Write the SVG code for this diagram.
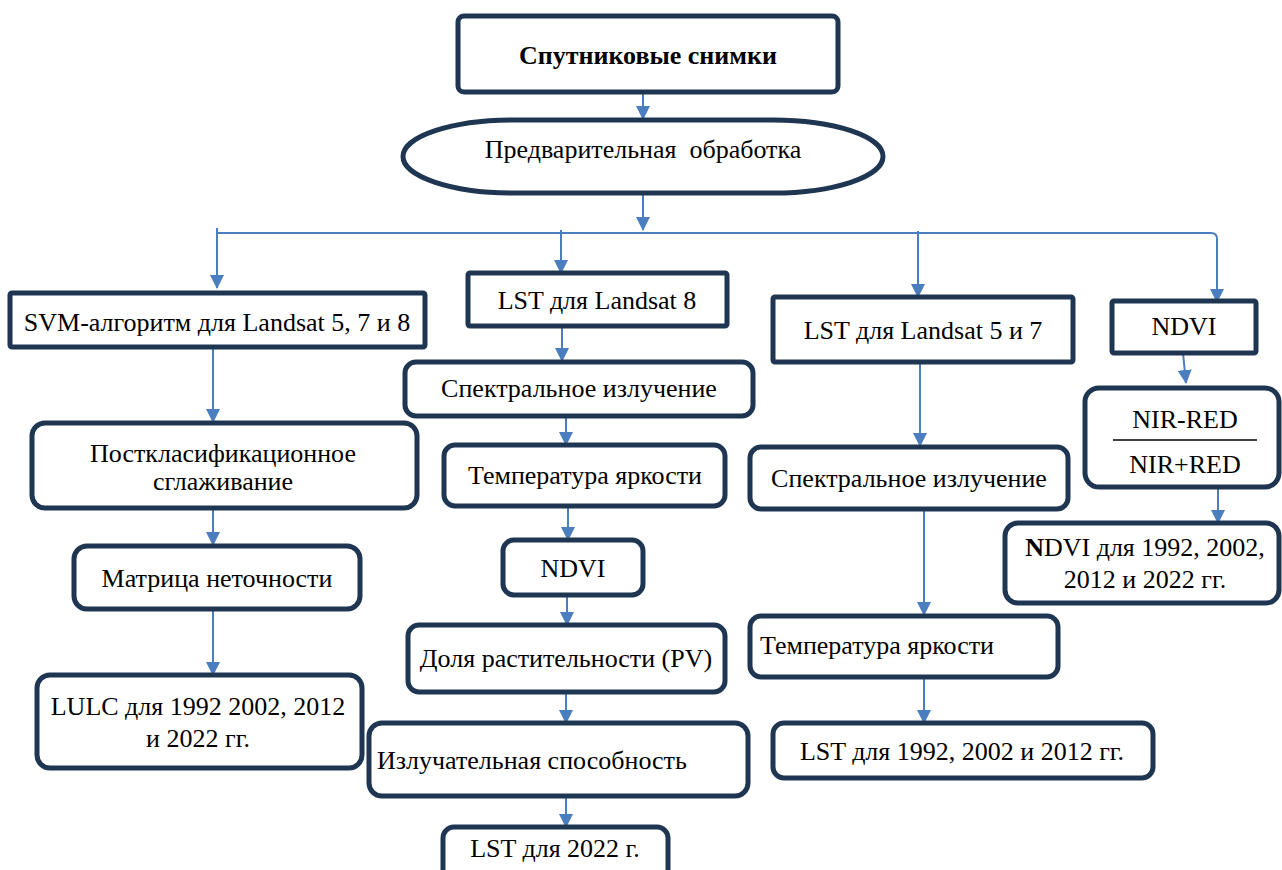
<svg xmlns="http://www.w3.org/2000/svg" width="1282" height="870" viewBox="0 0 1282 870">
<defs>
<marker id="ah" viewBox="0 0 14 14" refX="13" refY="7" markerWidth="14" markerHeight="14" orient="auto" markerUnits="userSpaceOnUse">
<path d="M0,0 L14,7 L0,14 z" fill="#4A7EBF"/>
</marker>
</defs>
<style>
.b{fill:#fff;stroke:#1F3652;stroke-width:5}
.t{font-family:"Liberation Serif","Times New Roman",serif;font-size:26px;fill:#000;text-anchor:middle}
.l{text-anchor:start}
.c{fill:none;stroke:#4A7EBF;stroke-width:2}
</style>
<rect width="1282" height="870" fill="#fff"/>

<g id="connectors">
<path class="c" d="M216,233 H1211 Q1217,233 1217,239 V302" marker-end="url(#ah)"/>
<path class="c" d="M217,228 V288" marker-end="url(#ah)"/>
<path class="c" d="M643,88 V119" marker-end="url(#ah)"/>
<path class="c" d="M643,195 V230" marker-end="url(#ah)"/>
<path class="c" d="M561,230 V273" marker-end="url(#ah)"/>
<path class="c" d="M918,231 V297" marker-end="url(#ah)"/>
<path class="c" d="M213,347 V422" marker-end="url(#ah)"/>
<path class="c" d="M213,508 V545" marker-end="url(#ah)"/>
<path class="c" d="M213,609 V675" marker-end="url(#ah)"/>
<path class="c" d="M562,326 V361" marker-end="url(#ah)"/>
<path class="c" d="M566,416 V445" marker-end="url(#ah)"/>
<path class="c" d="M568,506 V540" marker-end="url(#ah)"/>
<path class="c" d="M567,595 V625" marker-end="url(#ah)"/>
<path class="c" d="M566,692 V723" marker-end="url(#ah)"/>
<path class="c" d="M566,796 V827" marker-end="url(#ah)"/>
<path class="c" d="M920,362 V446" marker-end="url(#ah)"/>
<path class="c" d="M924,509 V615" marker-end="url(#ah)"/>
<path class="c" d="M924,677 V723" marker-end="url(#ah)"/>
<path class="c" d="M1183,353 L1186,383" marker-end="url(#ah)"/>
<path class="c" d="M1218,487 V523" marker-end="url(#ah)"/>
</g>

<g id="n-sputnik">
<rect class="b" x="458" y="16" width="380" height="76" rx="6"/>
<text class="t" x="648" y="64" font-weight="bold">Спутниковые снимки</text>
</g>
<g id="n-predobr">
<rect class="b" x="403" y="120" width="480" height="73" rx="110" ry="36.5"/>
<text class="t" x="643" y="158" xml:space="preserve">Предварительная  обработка</text>
</g>

<g id="n-svm">
<rect class="b" x="10" y="293" width="415" height="54" rx="2"/>
<text class="t" x="217" y="331">SVM-алгоритм для Landsat 5, 7 и 8</text>
</g>
<g id="n-postklass">
<rect class="b" x="32" y="423" width="385" height="85" rx="13"/>
<text class="t" x="223" y="462">Посткласификационное</text>
<text class="t" x="223" y="490">сглаживание</text>
</g>
<g id="n-matrix">
<rect class="b" x="74" y="546" width="286" height="63" rx="13"/>
<text class="t" x="217" y="587">Матрица неточности</text>
</g>
<g id="n-lulc">
<rect class="b" x="37" y="675" width="325" height="93" rx="13"/>
<text class="t" x="198" y="715">LULC для 1992 2002, 2012</text>
<text class="t" x="198" y="747">и 2022 гг.</text>
</g>

<g id="n-lst8">
<rect class="b" x="468" y="273" width="259" height="53" rx="2"/>
<text class="t" x="597" y="309">LST для Landsat 8</text>
</g>
<g id="n-spektr1">
<rect class="b" x="405" y="362" width="348" height="54" rx="11"/>
<text class="t" x="579" y="397">Спектральное излучение</text>
</g>
<g id="n-temp1">
<rect class="b" x="444" y="445" width="281" height="61" rx="11"/>
<text class="t" x="585" y="484">Температура яркости</text>
</g>
<g id="n-ndvi1">
<rect class="b" x="503" y="540" width="140" height="55" rx="11"/>
<text class="t" x="573" y="577">NDVI</text>
</g>
<g id="n-pv">
<rect class="b" x="408" y="625" width="317" height="67" rx="11"/>
<text class="t" x="566" y="667">Доля растительности (PV)</text>
</g>
<g id="n-emis">
<rect class="b" x="369" y="723" width="379" height="73" rx="13"/>
<text class="t l" x="377" y="769">Излучательная способность</text>
</g>
<g id="n-lst2022">
<rect class="b" x="443" y="827" width="225" height="60" rx="11"/>
<text class="t" x="555" y="857">LST для 2022 г.</text>
</g>

<g id="n-lst57">
<rect class="b" x="773" y="297" width="300" height="65" rx="2"/>
<text class="t" x="923" y="339">LST для Landsat 5 и 7</text>
</g>
<g id="n-spektr2">
<rect class="b" x="750" y="447" width="318" height="62" rx="11"/>
<text class="t" x="909" y="487">Спектральное излучение</text>
</g>
<g id="n-temp2">
<rect class="b" x="750" y="616" width="308" height="61" rx="11"/>
<text class="t l" x="760" y="654">Температура яркости</text>
</g>
<g id="n-lst9212">
<rect class="b" x="773" y="723" width="380" height="55" rx="11"/>
<text class="t" x="962" y="760">LST для 1992, 2002 и 2012 гг.</text>
</g>

<g id="n-ndvi2">
<rect class="b" x="1112" y="301" width="144" height="52" rx="2"/>
<text class="t" x="1184" y="335">NDVI</text>
</g>
<g id="n-formula">
<rect class="b" x="1085" y="388" width="194" height="99" rx="14"/>
<text class="t" x="1185" y="428" font-size="32">NIR-RED</text>
<line x1="1113" y1="440" x2="1257" y2="440" stroke="#000" stroke-width="1.3"/>
<text class="t" x="1185" y="473" font-size="32">NIR+RED</text>
</g>
<g id="n-ndvi-years">
<rect class="b" x="1005" y="523" width="274" height="80" rx="13"/>
<text class="t" x="1145" y="556"><tspan font-weight="bold">N</tspan>DVI для 1992, 2002,</text>
<text class="t" x="1145" y="588">2012 и 2022 гг.</text>
</g>
</svg>
